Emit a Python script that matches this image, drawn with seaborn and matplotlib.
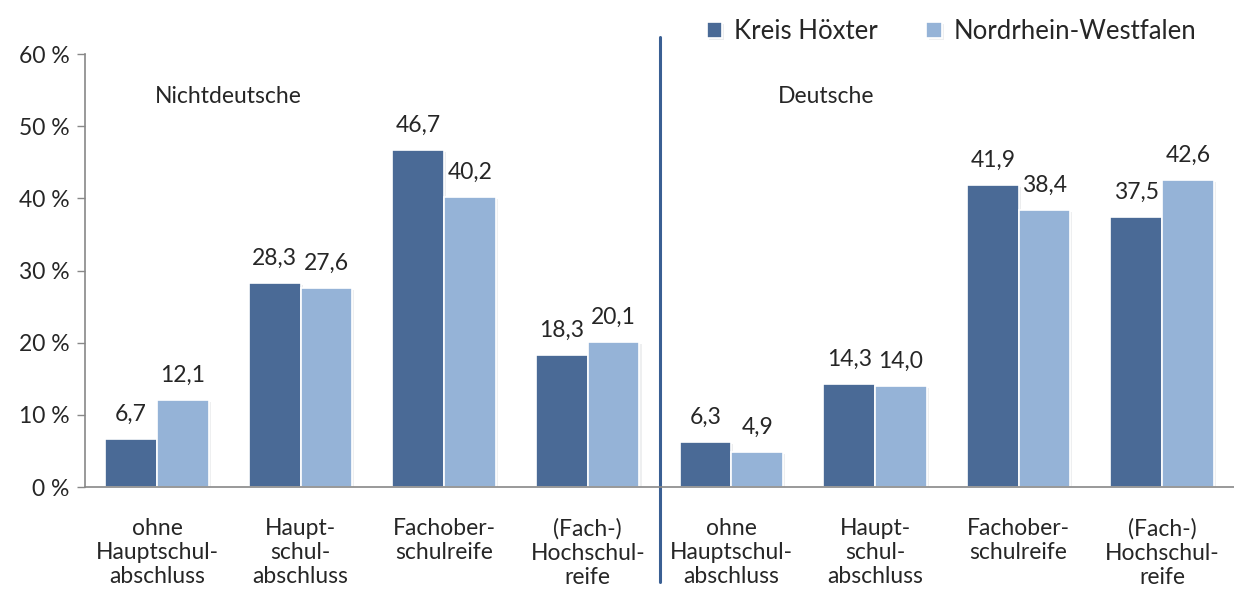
import numpy as np
import pandas as pd
import matplotlib
matplotlib.use("Agg")
import matplotlib.pyplot as plt
import matplotlib.patheffects as pe
import seaborn as sns

# data
groups = ["Nichtdeutsche", "Deutsche"]
categories = ["ohne\nHauptschul-\nabschluss", "Haupt-\nschul-\nabschluss",
              "Fachober-\nschulreife", "(Fach-)\nHochschul-\nreife"]
series = ["Kreis Höxter", "Nordrhein-Westfalen"]
hoexter = [6.7, 28.3, 46.7, 18.3, 6.3, 14.3, 41.9, 37.5]
nrw = [12.1, 27.6, 40.2, 20.1, 4.9, 14.0, 38.4, 42.6]
colors = ["#4a6a96", "#95b3d7"]

keys = [g + "|" + c for g in groups for c in categories]
df = pd.DataFrame({
    "key": keys * 2,
    "serie": [series[0]] * 8 + [series[1]] * 8,
    "wert": hoexter + nrw,
})

sns.set_style("white")
plt.rcParams["font.family"] = ["Lato", "DejaVu Sans"]
fs = 16.5

fig, ax = plt.subplots(figsize=(12.34, 5.89), dpi=100)
fig.subplots_adjust(left=0.069, right=1.0, top=0.908, bottom=0.173)

sns.barplot(data=df, x="key", y="wert", hue="serie", order=keys,
            hue_order=series, palette=colors, width=0.72, saturation=1,
            edgecolor="white", linewidth=1.2, ax=ax)

for p in ax.patches:
    p.set_path_effects([pe.SimplePatchShadow(offset=(1.5, -1.5), alpha=0.08), pe.Normal()])

for cont in ax.containers:
    ax.bar_label(cont, labels=[f"{v:.1f}".replace(".", ",") for v in cont.datavalues],
                 padding=10, fontsize=fs)

ax.set_xlim(-0.5, 7.5)
ax.set_ylim(0, 60)
ax.set_yticks(range(0, 61, 10))
ax.set_yticklabels([f"{v} %" for v in range(0, 61, 10)], fontsize=fs)
ax.set_xticks(range(8))
ax.set_xticklabels(categories * 2, fontsize=fs, linespacing=1.2)
ax.set_xticks(np.arange(-0.5, 8, 1), minor=True)
ax.tick_params(axis="x", which="major", length=0, pad=22)
ax.tick_params(axis="x", which="minor", length=6, color="#888888", width=1)
ax.tick_params(axis="y", length=6, color="#888888", width=1, left=True, pad=5)
ax.set_xlabel("")
ax.set_ylabel("")

for s in ["top", "right"]:
    ax.spines[s].set_visible(False)
for s in ["left", "bottom"]:
    ax.spines[s].set_color("#888888")
    ax.spines[s].set_linewidth(1.2)

# divider between Nichtdeutsche and Deutsche
ax.plot([3.5, 3.5], [-0.22, 1.04], transform=ax.get_xaxis_transform(),
        color="#3a5f93", linewidth=2.2, clip_on=False)

ax.text(0.5, 54.2, groups[0], ha="center", va="center", fontsize=fs)
ax.text(4.66, 54.2, groups[1], ha="center", va="center", fontsize=fs)

ax.legend(loc="lower right", bbox_to_anchor=(0.976, 1.0), ncol=2, frameon=False,
          fontsize=18.5, handlelength=0.6, handleheight=0.6, handletextpad=0.45,
          columnspacing=1.9, borderaxespad=0)

fig.savefig("out.png", dpi=100)
